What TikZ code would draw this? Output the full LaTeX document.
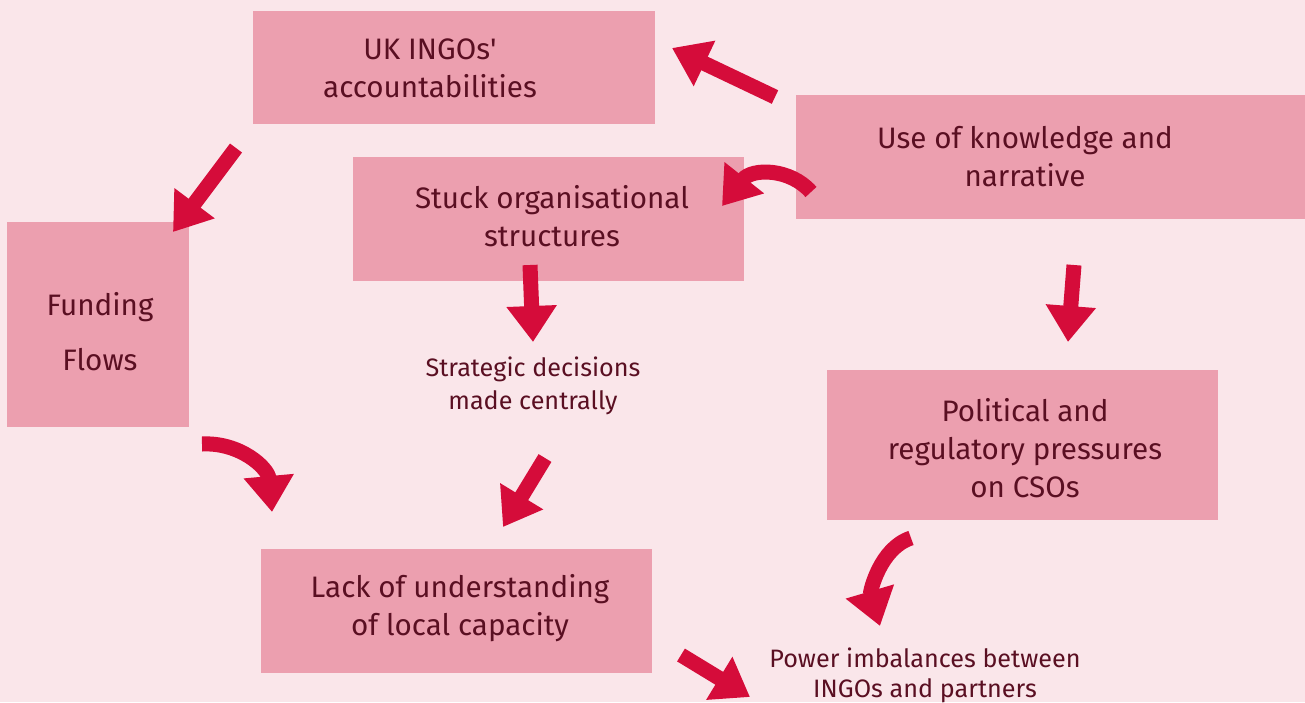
\documentclass[tikz,border=0pt]{standalone}
\usepackage{fontspec}
\setmainfont{Fira Sans}
\usetikzlibrary{arrows.meta,positioning}
\definecolor{bgc}{HTML}{FAE6EA}
\definecolor{boxc}{HTML}{EC9FAF}
\definecolor{redc}{HTML}{D50C3A}
\definecolor{txtc}{HTML}{5A0F22}
\tikzset{
  lbl/.style={align=center,text=txtc,font=\fontsize{14.8}{19}\selectfont,inner sep=0pt},
  note/.style={align=center,text=txtc,font=\fontsize{12.6}{16.5}\selectfont,inner sep=0pt},
  ar/.style={-{Triangle[length=18pt,width=24pt]},line width=7.5pt,redc}
}
\begin{document}
\begin{tikzpicture}[x=0.5pt,y=-0.5pt]
\fill[bgc] (0,0) rectangle (1305,702);
\useasboundingbox (0,0) rectangle (1305,702);
% boxes
\fill[boxc] (253,11) rectangle (655,124);
\fill[boxc] (796,95) rectangle (1305,219);
\fill[boxc] (353,157) rectangle (744,281);
\fill[boxc] (7,222) rectangle (189,427);
\fill[boxc] (827,370) rectangle (1218,520);
\fill[boxc] (261,549) rectangle (652,673);
% labels
\node[lbl] (uk) at (430,68) {UK INGOs\textquotesingle\\accountabilities};
\node[lbl] (know) at (1025,157) {Use of knowledge and\\narrative};
\node[lbl,font=\fontsize{14.8}{27.5}\selectfont] (fund) at (100,332) {Funding\\Flows};
\node[lbl] (stuck) at (552,216) {Stuck organisational\\structures};
\node[lbl] (pol) at (1025,448) {Political and\\regulatory pressures\\on CSOs};
\node[lbl] (lack) at (460,608) {Lack of understanding\\of local capacity};
\node[note] (strat) at (533,386) {Strategic decisions\\made centrally};
\node[note,font=\fontsize{12.6}{15}\selectfont] (power) at (925,675) {Power imbalances between\\INGOs and partners};
% arrows
\coordinate (a1) at (775,97); \coordinate (b1) at (672,48);
\coordinate (a2) at (811,192); \coordinate (b2) at (722,206);
\coordinate (a3) at (236,148); \coordinate (b3) at (173,232);
\coordinate (a4) at (202,444); \coordinate (b4) at (272,512);
\coordinate (a5) at (530,265); \coordinate (b5) at (533,342);
\coordinate (a6) at (545,458); \coordinate (b6) at (503,527);
\coordinate (a7) at (1074,265); \coordinate (b7) at (1068,342);
\coordinate (a8) at (911,538); \coordinate (b8) at (880,626);
\coordinate (a9) at (681,655); \coordinate (b9) at (750,697);
\draw[ar] (a1) -- (b1);
\draw[ar] (a2) .. controls (790,168) and (752,168) .. (b2);
\draw[ar] (a3) -- (b3);
\draw[ar] (a4) .. controls (240,442) and (268,468) .. (b4);
\draw[ar] (a5) -- (b5);
\draw[ar] (a6) -- (b6);
\draw[ar] (a7) -- (b7);
\draw[ar] (a8) .. controls (880,548) and (870,592) .. (b8);
\draw[ar] (a9) -- (b9);
\end{tikzpicture}
\end{document}
